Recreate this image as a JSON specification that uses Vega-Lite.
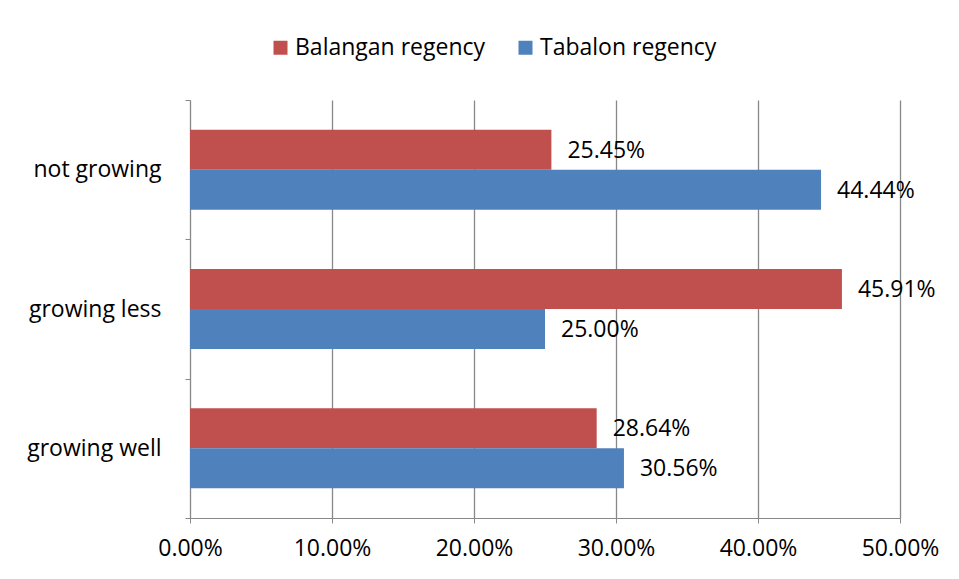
{
  "$schema": "https://vega.github.io/schema/vega-lite/v6.json",
  "width": 710,
  "height": 418,
  "autosize": {"type": "none"},
  "padding": {"left": 190, "top": 100, "right": 59, "bottom": 61},
  "background": "white",
  "data": {
    "values": [
      {"category": "not growing", "series": "Balangan regency", "value": 0.2545},
      {"category": "not growing", "series": "Tabalon regency", "value": 0.4444},
      {"category": "growing less", "series": "Balangan regency", "value": 0.4591},
      {"category": "growing less", "series": "Tabalon regency", "value": 0.25},
      {"category": "growing well", "series": "Balangan regency", "value": 0.2864},
      {"category": "growing well", "series": "Tabalon regency", "value": 0.3056}
    ]
  },
  "encoding": {
    "y": {
      "field": "category",
      "type": "nominal",
      "sort": ["not growing", "growing less", "growing well"],
      "scale": {"paddingInner": 0, "paddingOuter": 0},
      "axis": {
        "title": null,
        "tickBand": "extent",
        "domainColor": "#888888",
        "tickColor": "#888888",
        "tickSize": 5,
        "labelFontSize": 23,
        "labelFont": "Open Sans",
        "labelColor": "#000000",
        "labelPadding": 24,
        "labelLimit": 0
      }
    },
    "yOffset": {
      "field": "series",
      "type": "nominal",
      "sort": ["Balangan regency", "Tabalon regency"],
      "scale": {"paddingInner": 0, "paddingOuter": 0.74}
    },
    "x": {
      "field": "value",
      "type": "quantitative",
      "scale": {"domain": [0, 0.5], "nice": false},
      "axis": {
        "title": null,
        "format": ".2%",
        "values": [0, 0.1, 0.2, 0.3, 0.4, 0.5],
        "grid": true,
        "gridColor": "#888888",
        "gridWidth": 1.3,
        "domainColor": "#888888",
        "tickColor": "#888888",
        "tickSize": 5,
        "labelFontSize": 23,
        "labelFont": "Open Sans",
        "labelColor": "#000000",
        "labelPadding": 14,
        "labelFlush": false,
        "labelOverlap": false
      }
    }
  },
  "layer": [
    {
      "mark": {"type": "bar"},
      "encoding": {
        "color": {
          "field": "series",
          "type": "nominal",
          "sort": ["Balangan regency", "Tabalon regency"],
          "scale": {"domain": ["Balangan regency", "Tabalon regency"], "range": ["#C0504D", "#4F81BD"]},
          "legend": {
            "title": null,
            "orient": "none",
            "direction": "horizontal",
            "legendX": 79,
            "legendY": -64,
            "symbolType": "square",
            "symbolSize": 196,
            "symbolStrokeWidth": 0,
            "labelFontSize": 23,
            "labelFont": "Open Sans",
            "labelColor": "#000000",
            "labelOffset": 3,
            "labelLimit": 0,
            "columnPadding": 28
          }
        }
      }
    },
    {
      "mark": {"type": "text", "align": "left", "baseline": "middle", "dx": 16, "dy": 1, "fontSize": 23, "font": "Open Sans", "color": "#000000"},
      "encoding": {
        "text": {"field": "value", "type": "quantitative", "format": ".2%"}
      }
    }
  ],
  "config": {
    "view": {"stroke": null}
  }
}
